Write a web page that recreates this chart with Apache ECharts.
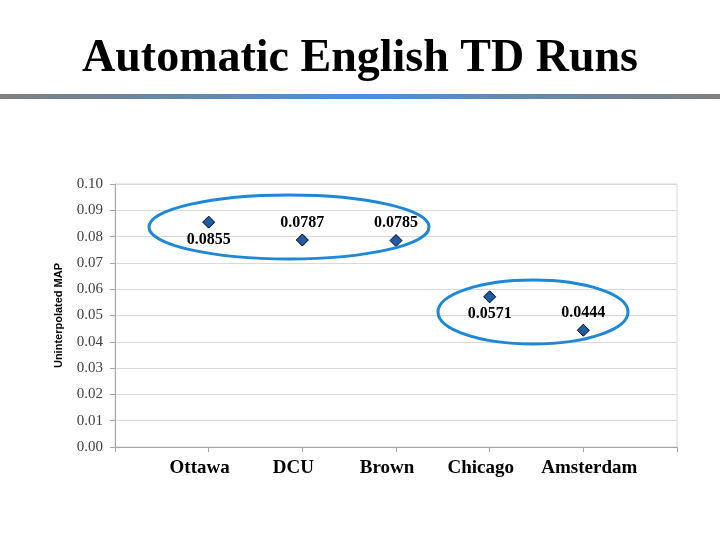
<!DOCTYPE html>
<html>
<head>
<meta charset="utf-8">
<script src="https://cdn.jsdelivr.net/npm/echarts@6/dist/echarts.min.js"></script>
<style>
html,body{margin:0;padding:0;background:#fff;}
#chart{width:720px;height:540px;}
</style>
</head>
<body>
<div id="chart"></div>
<script>
const titleText = 'Automatic English TD Runs';
const categories = ['Ottawa', 'DCU', 'Brown', 'Chicago', 'Amsterdam'];
const mapValues = [0.0855, 0.0787, 0.0785, 0.0571, 0.0444];
const labelPositions = ['bottom', 'top', 'top', 'bottom', 'top'];
const yTicks = [0.00, 0.01, 0.02, 0.03, 0.04, 0.05, 0.06, 0.07, 0.08, 0.09, 0.10];
const yAxisTitle = 'Uninterpolated MAP';
const categoryShift = ['l', 'l', 'l', 'l', 'r'];

const chart = echarts.init(document.getElementById('chart'));
const seriesData = categories.map((c, i) => ({
  value: [i + 1, mapValues[i]],
  label: { position: labelPositions[i] }
}));

const catFont = { fontFamily: 'Liberation Serif', fontWeight: 'bold', fontSize: 19, color: '#000' };

chart.setOption({
  backgroundColor: '#ffffff',
  animation: false,
  title: {
    text: titleText,
    left: 'center',
    top: 31,
    textStyle: { fontFamily: 'Liberation Serif', fontSize: 46, fontWeight: 'bold', color: '#000' }
  },
  grid: { left: 115, right: 43, top: 184, bottom: 93, show: true, borderColor: '#d9d9d9', borderWidth: 1 },
  xAxis: {
    type: 'value', min: 0, max: 6, interval: 1,
    axisLine: { show: true, lineStyle: { color: '#a6a6a6' } },
    axisTick: { show: true, length: 5, lineStyle: { color: '#a6a6a6' } },
    splitLine: { show: false },
    axisLabel: {
      margin: 12,
      formatter: v => categories[v - 1] ? '{' + categoryShift[v - 1] + '|' + categories[v - 1] + '}' : '',
      rich: {
        l: Object.assign({ padding: [0, 18, 0, 0] }, catFont),
        r: Object.assign({ padding: [0, 0, 0, 12] }, catFont)
      }
    }
  },
  yAxis: {
    type: 'value', min: yTicks[0], max: yTicks[yTicks.length - 1], interval: 0.01,
    name: yAxisTitle, nameLocation: 'middle', nameGap: 51,
    nameTextStyle: { fontFamily: 'Liberation Sans', fontWeight: 'bold', fontSize: 11, color: '#000' },
    axisLine: { show: true, lineStyle: { color: '#a6a6a6' } },
    axisTick: { show: true, length: 5, lineStyle: { color: '#a6a6a6' } },
    splitLine: { show: true, lineStyle: { color: '#d9d9d9', width: 1 } },
    axisLabel: {
      margin: 12,
      formatter: v => v.toFixed(2),
      fontFamily: 'Liberation Serif', fontSize: 15, color: '#404040'
    }
  },
  series: [{
    type: 'scatter',
    symbol: 'diamond',
    symbolSize: 12,
    data: seriesData,
    itemStyle: { color: '#1f5ca6', borderColor: '#000', borderWidth: 1, opacity: 1 },
    label: {
      show: true,
      formatter: p => mapValues[p.dataIndex].toFixed(4),
      fontFamily: 'Liberation Serif', fontWeight: 'bold', fontSize: 16, color: '#000', distance: 3
    }
  }],
  graphic: [
    {
      type: 'rect', left: 0, top: 94, z: 10,
      shape: { width: 720, height: 5 },
      style: {
        fill: new echarts.graphic.LinearGradient(0, 0, 1, 0, [
          { offset: 0, color: '#808080' },
          { offset: 0.5, color: '#4a90d9' },
          { offset: 1, color: '#808080' }
        ])
      }
    },
    {
      type: 'ellipse', z: 20,
      shape: { cx: 289, cy: 227, rx: 140, ry: 32 },
      style: { fill: 'none', stroke: '#1e88d8', lineWidth: 3 }
    },
    {
      type: 'ellipse', z: 20,
      shape: { cx: 533, cy: 312, rx: 95, ry: 32 },
      style: { fill: 'none', stroke: '#1e88d8', lineWidth: 3 }
    }
  ]
});
</script>
</body>
</html>
